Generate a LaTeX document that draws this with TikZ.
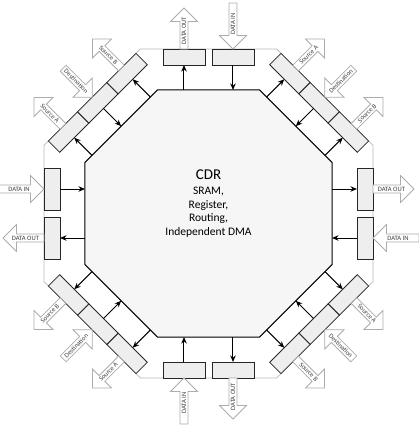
\documentclass[tikz,border=0pt]{standalone}
\usepackage{fontspec}
\setmainfont{Carlito}
\usetikzlibrary{arrows.meta, shapes.geometric, shapes.arrows}

\begin{document}
\begin{tikzpicture}[x=1pt, y=1pt,
  rim/.style={draw=gray!55, line width=0.8pt, regular polygon, regular polygon sides=8,
              minimum size=356.1pt, inner sep=0pt, outer sep=0pt},
  core/.style={draw, line width=1pt, fill=gray!7, regular polygon, regular polygon sides=8,
               minimum size=267.4pt, inner sep=0pt, outer sep=0pt},
  port/.style={draw=black!85, line width=0.8pt, fill=gray!13, minimum width=42pt,
               minimum height=16pt, inner sep=0pt, outer sep=0pt, transform shape},
  seg/.style={port, minimum width=41.33pt},
  flow/.style={-{Stealth[length=6.5pt, width=5.5pt]}, line width=1pt},
  fat/.style={single arrow, draw=gray!65, fill=white, line width=0.8pt, minimum width=27pt,
              single arrow head extend=6pt, single arrow head indent=0pt, single arrow tip angle=90,
              inner sep=0pt, outer sep=0pt, text=black!75, font=\fontsize{6.6}{7.5}\selectfont}
]
  \useasboundingbox (-208.5,-215.5) rectangle (210.5,213.5);

  \node[rim] (rim) at (0,0) {};
  \node[core] (core) at (0,0) {};
  \node[align=center, font=\fontsize{11.5}{13.5}\selectfont] (cdr) at (0,10)
    {{\fontsize{15}{17}\selectfont CDR}\\[2pt]SRAM,\\Register,\\Routing,\\Independent DMA};

  % data ports on the straight sides
  \foreach \ang/\ta/\bo/\bi [count=\k] in {90/90/0/180, 0/0/0/180, -90/90/180/0, 180/0/180/0}{
    \begin{scope}[rotate=\ang-90]
      \node[port] (out\k) at (-24.5,156.5) {};
      \node[port] (in\k) at (24.5,156.5) {};
      \coordinate (cout\k) at (-24.5,123.5);
      \coordinate (cin\k) at (24.5,123.5);
      \node[fat, rotate=\ta, shape border rotate=\bo, minimum height=41pt, anchor=tail]
        (dout\k) at (-24.5,164.5) {\makebox[27pt]{DATA OUT}};
      \node[fat, rotate=\ta, shape border rotate=\bi, minimum height=46pt, anchor=tip]
        (din\k) at (24.5,164.5) {\makebox[32pt]{DATA IN}};
    \end{scope}
    \draw[flow] (cout\k) -- (out\k.south);
    \draw[flow] (in\k.south) -- (cin\k);
  }

  % DMA ports on the corners
  \foreach \ang/\ta/\bo/\bi [count=\k] in {135/-45/180/0, 45/45/0/180, -45/-45/0/180, -135/45/180/0}{
    \begin{scope}[rotate=\ang-90]
      \node[seg] (srca\k) at (-41.33,156.5) {};
      \node[seg] (dest\k) at (0,156.5) {};
      \node[seg] (srcb\k) at (41.33,156.5) {};
      \coordinate (csrca\k) at (-41.33,123.5);
      \coordinate (cdest\k) at (0,123.5);
      \coordinate (csrcb\k) at (41.33,123.5);
      \node[fat, rotate=\ta, shape border rotate=\bo, minimum height=41pt, anchor=tail]
        (asrca\k) at (-41.33,164.5) {\makebox[27pt]{Source A}};
      \node[fat, rotate=\ta, shape border rotate=\bi, minimum height=41pt, anchor=tip]
        (adest\k) at (0,164.5) {\makebox[27pt]{Destination}};
      \node[fat, rotate=\ta, shape border rotate=\bo, minimum height=41pt, anchor=tail]
        (asrcb\k) at (41.33,164.5) {\makebox[27pt]{Source B}};
    \end{scope}
    \draw[flow] (csrca\k) -- (srca\k.south);
    \draw[flow] (dest\k.south) -- (cdest\k);
    \draw[flow] (csrcb\k) -- (srcb\k.south);
  }
\end{tikzpicture}
\end{document}
